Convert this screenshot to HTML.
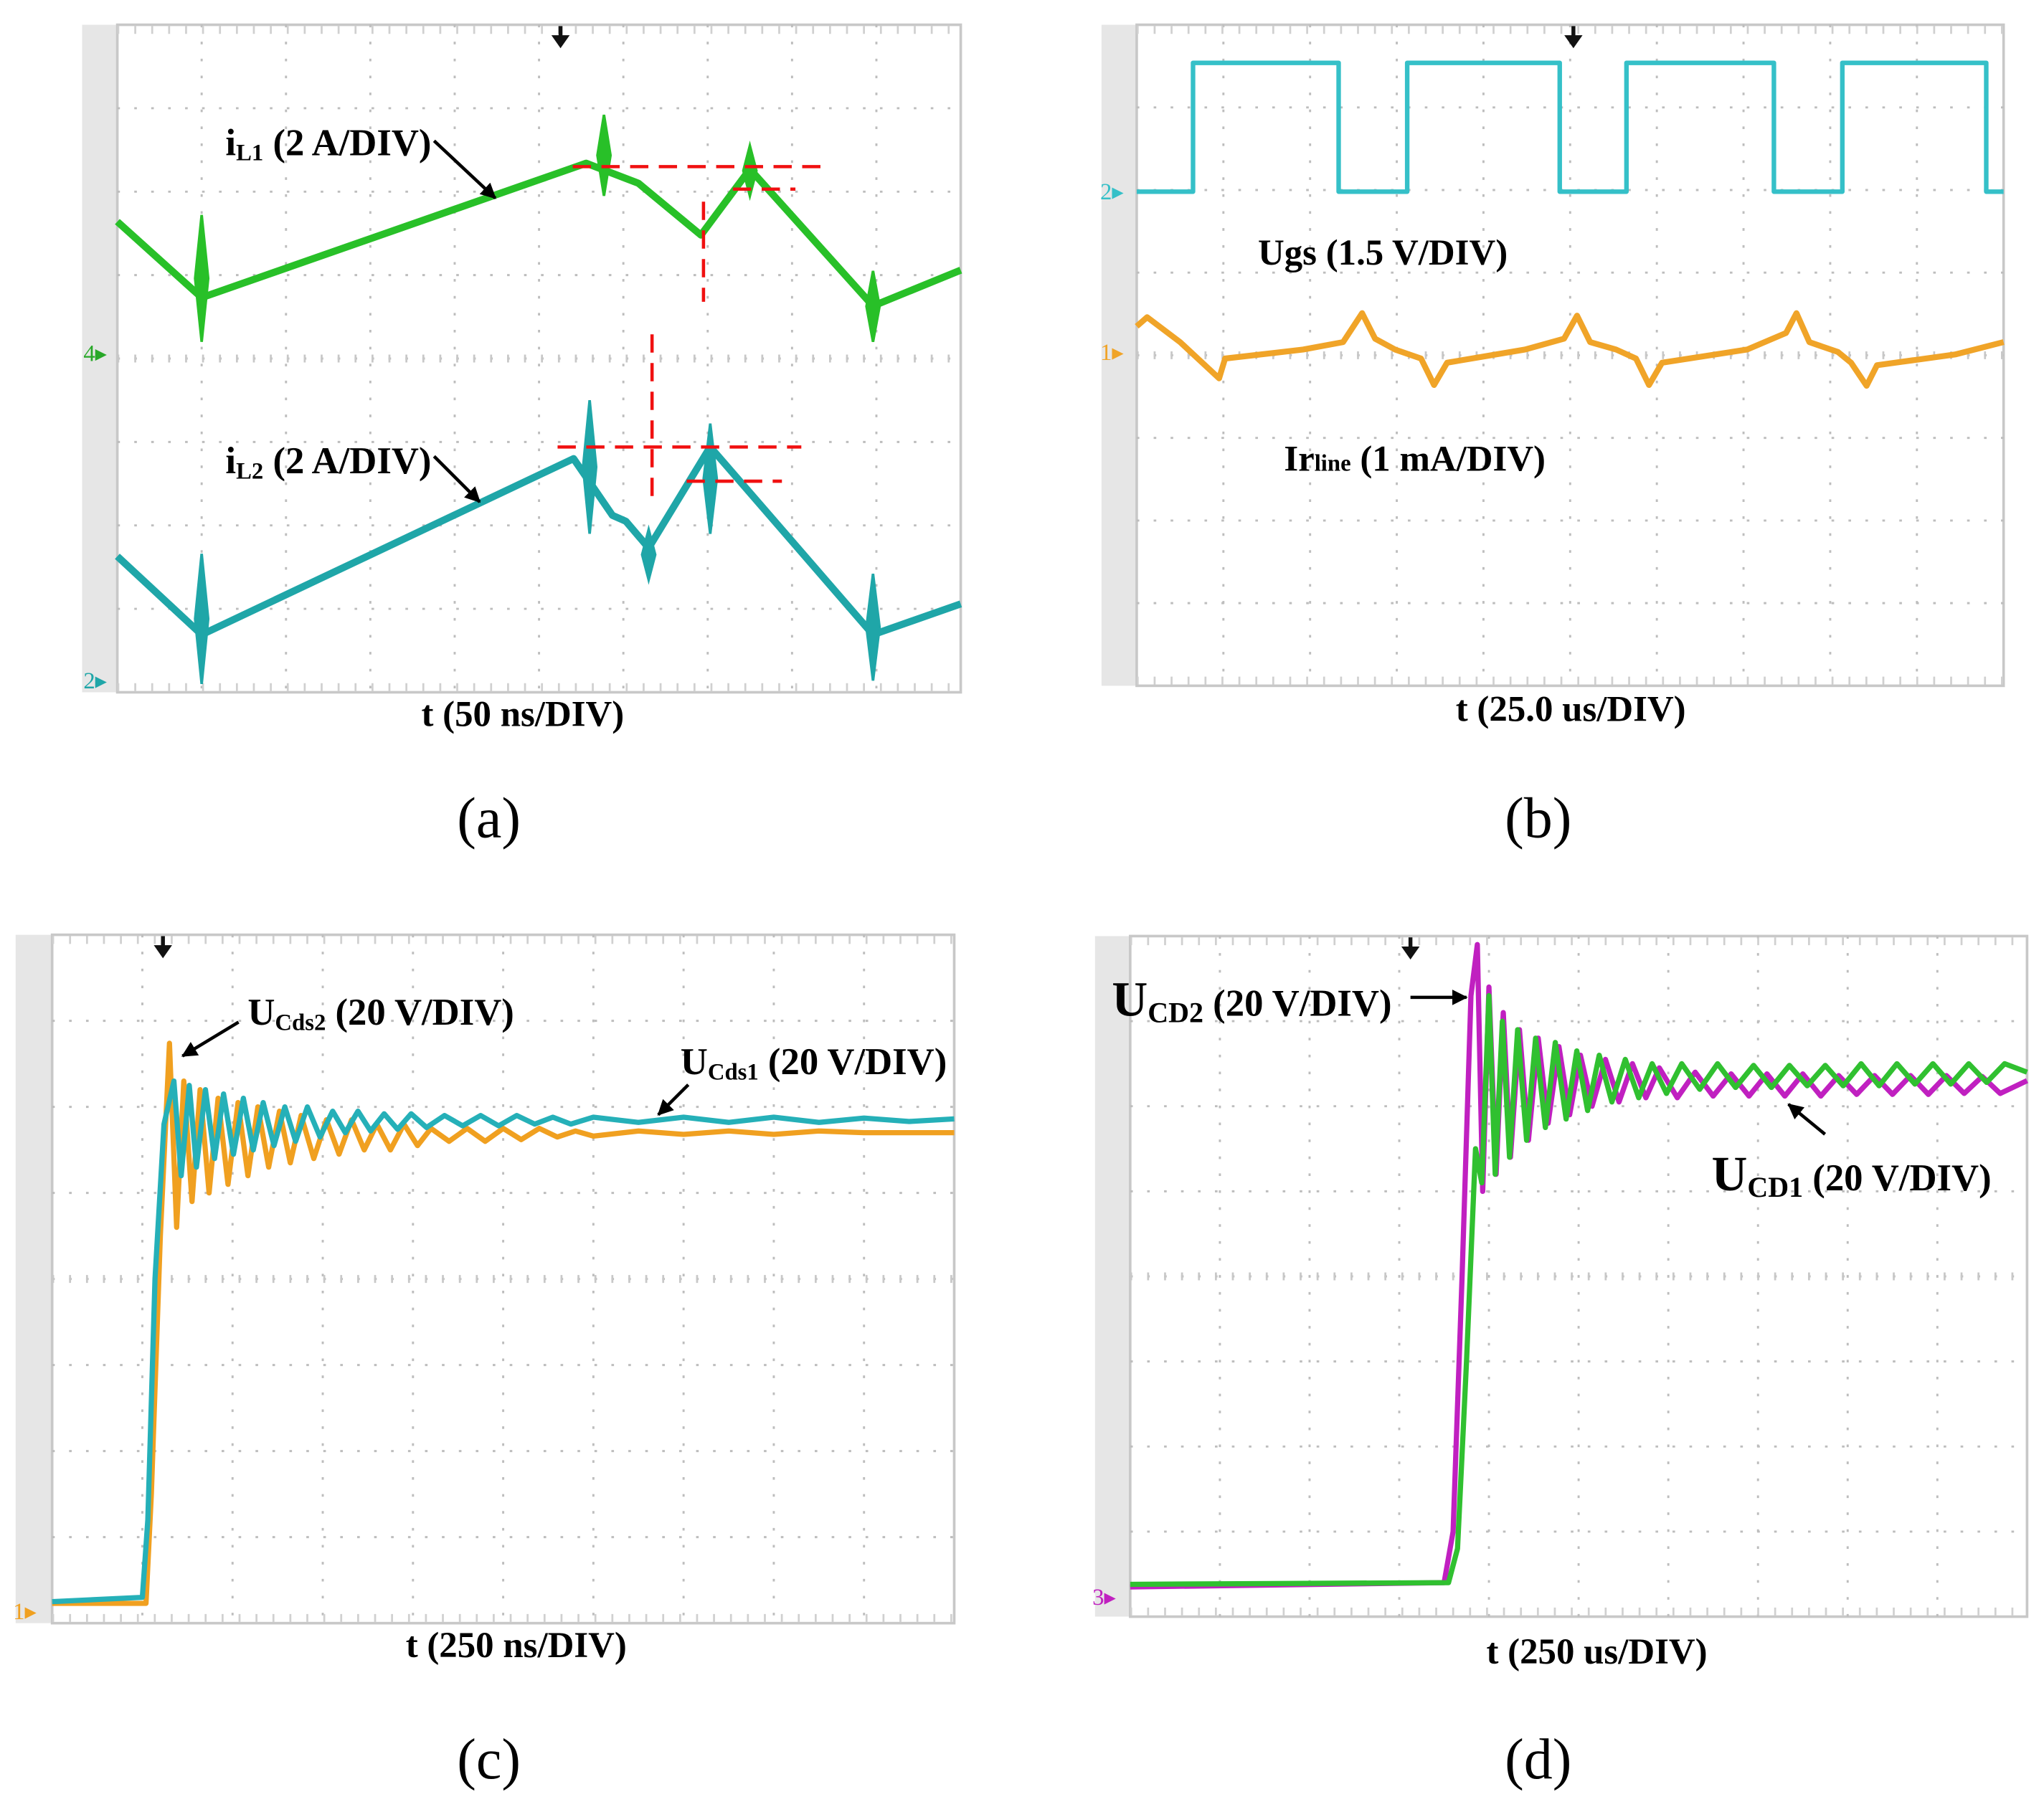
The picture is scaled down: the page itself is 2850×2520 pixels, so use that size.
<!DOCTYPE html>
<html><head><meta charset="utf-8"><style>
html,body{margin:0;padding:0;background:#fff;}
svg{display:block;}
text{font-family:"Liberation Serif",serif;}
</style></head><body>
<svg id="fig" width="2850" height="2520" viewBox="0 0 1568 1386" preserveAspectRatio="none" xmlns="http://www.w3.org/2000/svg">
<defs><marker id="ah" markerWidth="12" markerHeight="12" refX="11" refY="6" orient="auto" markerUnits="userSpaceOnUse"><path d="M0,0 L12,6 L0,12 Z" fill="#000"/></marker></defs>
</svg>
<script>
// ---- data (time in divisions, value in divisions) ----
const aGreenT=[0,1.0,5.56,6.18,6.92,7.5,8.96,10];
const aGreenV=[5.64,4.73,6.34,6.1,5.48,6.27,4.63,5.06];
const aGreenSpikeT=[1.0,5.77,7.5,8.96];
const aGreenSpikeHi=[5.72,6.92,6.55,5.05];
const aGreenSpikeLo=[4.2,5.95,5.95,4.2];
const aTealT=[0,1.0,5.41,5.87,6.03,6.3,7.03,8.96,10];
const aTealV=[1.63,0.69,2.8,2.12,2.05,1.73,2.94,0.69,1.06];
const aTealSpikeT=[1.0,5.6,6.3,7.03,8.96];
const aTealSpikeHi=[1.66,3.5,1.95,3.22,1.42];
const aTealSpikeLo=[0.1,1.9,1.35,1.9,0.14];
const aRedH=[[5.4,8.34,6.3],[7.3,8.04,6.03],[5.22,8.11,2.94],[6.75,7.88,2.53]];
const aRedV=[[6.95,5.88,4.68],[6.34,4.29,2.28]];

const bSqT=[0,0.65,0.65,2.33,2.33,3.12,3.12,4.88,4.88,5.65,5.65,7.35,7.35,8.14,8.14,9.8,9.8,10];
const bSqV=[5.98,5.98,7.54,7.54,5.98,5.98,7.54,7.54,5.98,5.98,7.54,7.54,5.98,5.98,7.54,7.54,5.98,5.98];
const bOrT=[0,0.12,0.5,0.95,1.02,1.92,2.38,2.6,2.75,2.98,3.28,3.43,3.58,4.48,4.93,5.08,5.23,5.53,5.76,5.91,6.06,7.04,7.49,7.61,7.76,8.09,8.24,8.42,8.54,9.44,10];
const bOrV=[4.35,4.46,4.16,3.72,3.96,4.07,4.16,4.51,4.2,4.07,3.96,3.64,3.91,4.07,4.2,4.48,4.16,4.07,3.96,3.64,3.91,4.07,4.27,4.51,4.16,4.04,3.91,3.63,3.88,4.01,4.16];

const cOrT=[0,1.04,1.1,1.2,1.3,1.38,1.46,1.55,1.64,1.74,1.84,1.95,2.06,2.17,2.28,2.4,2.52,2.64,2.76,2.9,3.04,3.18,3.32,3.46,3.6,3.75,3.9,4.05,4.2,4.4,4.6,4.8,5.0,5.2,5.4,5.6,5.8,6.0,6.5,7,7.5,8,8.5,9,9.5,10];
const cOrV=[0.23,0.23,1.5,4.5,6.74,4.6,6.3,4.9,6.2,5.0,6.1,5.1,6.05,5.2,6.0,5.3,5.95,5.35,5.9,5.4,5.85,5.45,5.85,5.5,5.8,5.5,5.8,5.55,5.75,5.6,5.75,5.6,5.75,5.62,5.75,5.65,5.72,5.66,5.72,5.68,5.72,5.68,5.72,5.7,5.7,5.7];
const cTeT=[0,1.0,1.06,1.14,1.24,1.35,1.43,1.52,1.6,1.7,1.8,1.9,2.01,2.12,2.23,2.34,2.46,2.58,2.7,2.83,2.97,3.11,3.25,3.39,3.53,3.68,3.83,3.98,4.15,4.35,4.55,4.75,4.95,5.15,5.35,5.55,5.75,6,6.5,7,7.5,8,8.5,9,9.5,10];
const cTeV=[0.25,0.3,1.2,4.0,5.8,6.3,5.2,6.25,5.3,6.2,5.4,6.15,5.45,6.1,5.5,6.05,5.55,6.0,5.6,6.0,5.65,5.95,5.7,5.95,5.72,5.92,5.74,5.92,5.76,5.9,5.78,5.9,5.78,5.9,5.8,5.88,5.8,5.88,5.82,5.88,5.82,5.88,5.82,5.87,5.83,5.86];

const dMaT=[0,3.5,3.6,3.7,3.8,3.87,3.93,4.0,4.08,4.16,4.24,4.34,4.44,4.55,4.66,4.78,4.9,5.02,5.15,5.3,5.45,5.6,5.75,5.9,6.1,6.3,6.5,6.7,6.9,7.1,7.3,7.5,7.7,7.9,8.1,8.3,8.5,8.7,8.9,9.1,9.3,9.5,9.7,10];
const dMaV=[0.35,0.4,1.0,4.0,7.3,7.9,5.0,7.4,5.2,7.1,5.4,6.9,5.6,6.8,5.8,6.7,5.9,6.6,6.0,6.55,6.05,6.5,6.1,6.45,6.1,6.4,6.12,6.38,6.12,6.38,6.12,6.38,6.12,6.36,6.14,6.36,6.14,6.36,6.14,6.36,6.15,6.35,6.15,6.3];
const dGrT=[0,3.55,3.65,3.75,3.85,3.92,4.0,4.07,4.15,4.23,4.32,4.42,4.52,4.63,4.74,4.86,4.98,5.1,5.23,5.37,5.52,5.67,5.82,5.98,6.15,6.35,6.55,6.75,6.95,7.15,7.35,7.55,7.75,7.95,8.15,8.35,8.55,8.75,8.95,9.15,9.35,9.55,9.75,10];
const dGrV=[0.38,0.4,0.8,3.0,5.5,5.1,7.3,5.2,7.0,5.4,6.9,5.6,6.8,5.75,6.75,5.85,6.65,5.95,6.6,6.05,6.55,6.1,6.5,6.15,6.5,6.2,6.5,6.22,6.48,6.22,6.48,6.24,6.48,6.24,6.5,6.24,6.5,6.26,6.5,6.26,6.5,6.28,6.5,6.4];

const NS='http://www.w3.org/2000/svg';
const svg=document.getElementById('fig');
function el(tag,attrs,parent){const e=document.createElementNS(NS,tag);for(const k in attrs)e.setAttribute(k,attrs[k]);(parent||svg).appendChild(e);return e;}

function panel(id,L,R,T,B,strip,arrowX){
  const g=el('g',{});
  
  
  const s=el('rect',{x:L-strip,y:T,width:strip,height:B-T,fill:'#e6e6e6'},g);
  
  
  const fr=el('rect',{x:L,y:T,width:R-L,height:B-T,fill:'#fff',stroke:'#c8c8c8','stroke-width':2},g);
  
  
  const sx=t=>L+t*(R-L)/10, sy=v=>B-v*(B-T)/8;
  for(let i=1;i<10;i++){const l=el('line',{x1:sx(i),x2:sx(i),y1:T,y2:B,stroke:'#bdbdbd','stroke-width':1.6,'stroke-dasharray':'2 11'},g);
    }
  for(let j=1;j<8;j++){const l=el('line',{x1:L,x2:R,y1:sy(j),y2:sy(j),stroke:'#bdbdbd','stroke-width':1.6,'stroke-dasharray':j==4?'2 11':'2 11'},g);
    }
  const cl=el('line',{x1:L,x2:R,y1:sy(4),y2:sy(4),stroke:'#c8c8c8','stroke-width':6,'stroke-dasharray':'1.5 11.5'},g);
  
  const tp=el('line',{x1:L,x2:R,y1:T+4,y2:T+4,stroke:'#d0d0d0','stroke-width':6,'stroke-dasharray':'1.5 11.5'},g);
  
  const bt=el('line',{x1:L,x2:R,y1:B-4,y2:B-4,stroke:'#d0d0d0','stroke-width':6,'stroke-dasharray':'1.5 11.5'},g);
  
  const tr=el('path',{d:`M${arrowX-7},${T+8} L${arrowX+7},${T+8} L${arrowX},${T+18} Z M${arrowX-1.5},${T+1} h3 v8 h-3 Z`,fill:'#111'},g);
  
  
  return {g,sx,sy,L};
}
function trace(p,T,V,color,w,name){
  let d='';T.forEach((t,i)=>{d+=(i?'L':'M')+p.sx(t).toFixed(1)+','+p.sy(V[i]).toFixed(1)});
  const e=el('path',{d,fill:'none',stroke:color,'stroke-width':w,'stroke-linejoin':'round'},p.g);
  
  
}
function spikes(p,T,H,Lo,color,name){
  T.forEach((t,i)=>{const x=p.sx(t);
    const e=el('path',{d:`M${x},${p.sy(H[i])} L${x+5},${p.sy((H[i]+Lo[i])/2)} L${x},${p.sy(Lo[i])} L${x-5},${p.sy((H[i]+Lo[i])/2)} Z`,fill:color,stroke:color,'stroke-width':2},p.g);
    
    });
}
function txt(x,y,html,size,name,anchor){
  const t=el('text',{x,y,'font-size':size,'font-weight':'bold','text-anchor':anchor||'start',fill:'#000'});
  t.innerHTML=html;
  
  
  return t;
}
function cap(x,y,s,name){const t=el('text',{x,y,'font-size':44,'text-anchor':'middle',fill:'#000'});t.textContent=s;
  }
function arrow(x1,y1,x2,y2,name){const a=el('line',{x1,y1,x2,y2,stroke:'#000','stroke-width':2.5,'marker-end':'url(#ah)'});
  }
function chMark(x,y,s,color,name){const t=el('text',{x,y,'font-size':18,fill:color,'font-family':'Liberation Sans, sans-serif'});t.textContent=s+'▸';
  }

// Panel a
const pa=panel('a',90,737,19,531,27,430);
trace(pa,aGreenT,aGreenV,'#28c028',5.5,'il1-trace');
spikes(pa,aGreenSpikeT,aGreenSpikeHi,aGreenSpikeLo,'#28c028','il1-spike');
trace(pa,aTealT,aTealV,'#1fa6a8',5.5,'il2-trace');
spikes(pa,aTealSpikeT,aTealSpikeHi,aTealSpikeLo,'#1fa6a8','il2-spike');
aRedH.forEach(r=>{const e=el('line',{x1:pa.sx(r[0]),x2:pa.sx(r[1]),y1:pa.sy(r[2]),y2:pa.sy(r[2]),stroke:'#f01010','stroke-width':2.5,'stroke-dasharray':'14 8'},pa.g);
  });
aRedV.forEach(r=>{const e=el('line',{x1:pa.sx(r[0]),x2:pa.sx(r[0]),y1:pa.sy(r[1]),y2:pa.sy(r[2]),stroke:'#f01010','stroke-width':2.5,'stroke-dasharray':'14 8'},pa.g);
  });
chMark(64,277,'4','#28a828','channel-4-marker');
chMark(64,528,'2','#1fa6a8','channel-2-marker');
txt(173,119,'i<tspan font-size="18" dy="4">L1</tspan><tspan dy="-4"> (2 A/DIV)</tspan>',29,'il1-label');
arrow(333,108,380,152,'il1-arrow');
txt(173,363,'i<tspan font-size="18" dy="4">L2</tspan><tspan dy="-4"> (2 A/DIV)</tspan>',29,'il2-label');
arrow(333,350,368,385,'il2-arrow');
txt(401,557,'t (50 ns/DIV)',28,'x-axis-title-a','middle');
cap(375,642,'(a)','caption-a');

// Panel b
const pb=panel('b',872,1537,19,526,27,1207);
trace(pb,bSqT,bSqV,'#35c0c8',3.5,'ugs-trace');
trace(pb,bOrT,bOrV,'#f0a428',4.5,'irline-trace');
chMark(844,153,'2','#35c0c8','channel-2-marker-b');
chMark(844,276,'1','#f0a428','channel-1-marker-b');
txt(965,203,'Ugs (1.5 V/DIV)',28,'ugs-label');
txt(985,361,'Ir<tspan font-size="18">line</tspan> (1 mA/DIV)',28,'irline-label');
txt(1205,553,'t (25.0 us/DIV)',28,'x-axis-title-b','middle');
cap(1180,642,'(b)','caption-b');

// Panel c
const pc=panel('c',40,732,717,1245,28,125);
trace(pc,cOrT,cOrV,'#f0a020',4,'ucds2-trace');
trace(pc,cTeT,cTeV,'#25b0b8',4,'ucds1-trace');
chMark(10,1242,'1','#f0a020','channel-1-marker-c');
txt(190,786,'U<tspan font-size="18" dy="4">Cds2</tspan><tspan dy="-4"> (20 V/DIV)</tspan>',29,'ucds2-label');
arrow(183,784,140,810,'ucds2-arrow');
txt(522,824,'U<tspan font-size="18" dy="4">Cds1</tspan><tspan dy="-4"> (20 V/DIV)</tspan>',29,'ucds1-label');
arrow(528,832,505,855,'ucds1-arrow');
txt(396,1271,'t (250 ns/DIV)',28,'x-axis-title-c','middle');
cap(375,1364,'(c)','caption-c');

// Panel d
const pd=panel('d',867,1555,718,1240,27,1082);
trace(pd,dMaT,dMaV,'#c020c0',4,'ucd2-trace');
trace(pd,dGrT,dGrV,'#30c030',4,'ucd1-trace');
chMark(838,1231,'3','#c020c0','channel-3-marker-d');
txt(853,779,'U<tspan font-size="22" dy="5">CD2</tspan><tspan dy="-5" font-size="29"> (20 V/DIV)</tspan>',38,'ucd2-label');
arrow(1082,765,1125,765,'ucd2-arrow');
txt(1313,913,'U<tspan font-size="22" dy="5">CD1</tspan><tspan dy="-5" font-size="29"> (20 V/DIV)</tspan>',38,'ucd1-label');
arrow(1400,870,1372,847,'ucd1-arrow');
txt(1225,1276,'t (250 us/DIV)',28,'x-axis-title-d','middle');
cap(1180,1364,'(d)','caption-d');
</script>
</body></html>
